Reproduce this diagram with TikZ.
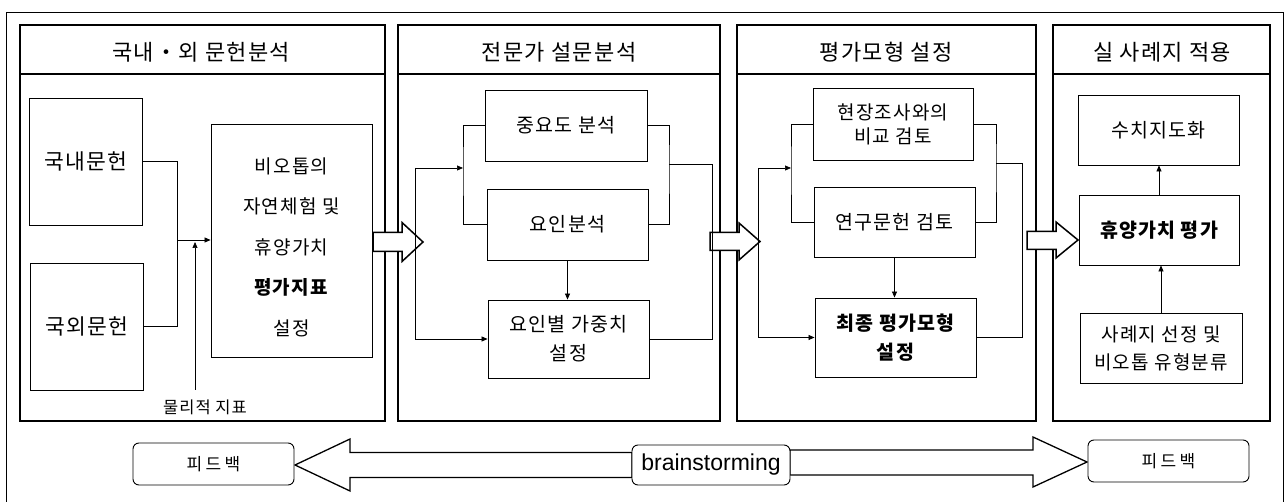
\documentclass[tikz,border=0pt]{standalone}
\usepackage{fontspec}
\setmainfont{Noto Sans CJK KR}[LetterSpace=6]
\newfontfamily\latinsans{Liberation Sans}
\usetikzlibrary{arrows.meta}
\begin{document}
\begin{tikzpicture}[x=1pt,y=-1pt,
  panel/.style={draw,line width=1.1pt},
  box/.style={draw,line width=0.9pt,inner sep=0pt,align=center,fill=white,font=\fontsize{19.5}{28}\selectfont},
  txt/.style={inner sep=0pt,align=center},
  hdr/.style={inner sep=0pt,font=\fontsize{22}{24}\selectfont},
  conn/.style={line width=0.7pt},
  arr/.style={conn,-{Triangle[length=6pt,width=5pt]}},
  hollow/.style={draw,line width=1.5pt,fill=white,line join=miter},
  fbbox/.style={draw,line width=0.9pt,rounded corners=6pt,inner sep=0pt,fill=white,minimum width=161,minimum height=42,font=\fontsize{17}{20}\selectfont\addfontfeature{LetterSpace=20}}
]
\useasboundingbox (0,0) rectangle (1286,502);
% outer frame
\draw[line width=0.9pt] (6,502) -- (6,12) -- (1283,12) -- (1283,502);
% panels
\draw[panel] (20,25) rectangle (385,421); \draw[panel] (20,74) -- (385,74);
\draw[panel] (398,25) rectangle (720,421); \draw[panel] (398,74) -- (720,74);
\draw[panel] (737,25) rectangle (1036,421); \draw[panel] (737,74) -- (1036,74);
\draw[panel] (1053,25) rectangle (1270,421); \draw[panel] (1053,74) -- (1270,74);
% headers
\node[hdr] (h1) at (201,52) {국내・외 문헌분석};
\node[hdr] (h2) at (559,52) {전문가 설문분석};
\node[hdr] (h3) at (886,52) {평가모형 설정};
\node[hdr] (h4) at (1162,52) {실 사례지 적용};
% hollow arrows between panels
\draw[hollow] (373,232.5) -- (402,232.5) -- (402,222.5) -- (423,242) -- (402,261.5) -- (402,251.5) -- (373,251.5) -- cycle;
\draw[hollow] (710,232.5) -- (739,232.5) -- (739,223) -- (760,241.5) -- (739,260) -- (739,250.5) -- (710,250.5) -- cycle;
\draw[hollow] (1027,231.5) -- (1056,231.5) -- (1056,222) -- (1078,240) -- (1056,258) -- (1056,249.5) -- (1027,249.5) -- cycle;
% panel 1
\node[box,minimum width=113,minimum height=127,font=\fontsize{21.5}{24}\selectfont] (kn) at (85.5,161.5) {국내문헌};
\node[box,minimum width=113,minimum height=127,font=\fontsize{21.5}{24}\selectfont] (kw) at (87,326.5) {국외문헌};
\node[box,minimum width=161,minimum height=233] (bio) at (291.5,240.5) {};
\node[txt,font=\fontsize{19}{40.5}\selectfont] (bioT) at (291.5,247) {비오톱의\\자연체험 및\\휴양가치\\\textbf{평가지표}\\설정};
\coordinate (j1) at (177,240);
\draw[conn] (kn.east) -| (j1);
\draw[conn] (kw.east) -| (j1);
\draw[arr] (j1) -- (j1 -| bio.west);
\node[txt,font=\fontsize{16.5}{18}\selectfont] (phys) at (205,407) {물리적 지표};
\coordinate (p0) at (195,390);
\coordinate (p1) at (195,242);
\draw[arr] (p0) -- (p1);
% panel 2
\node[box,minimum width=162,minimum height=71] (imp) at (566,125.5) {중요도 분석};
\node[box,minimum width=161,minimum height=71] (fac) at (567.5,224.5) {요인분석};
\node[box,minimum width=161,minimum height=78,font=\fontsize{19.5}{29}\selectfont] (wt) at (568.5,339) {요인별 가중치\\설정};
\coordinate (lb2) at (463,168);
\coordinate (in2) at (415,168);
\coordinate (rb2) at (669,164);
\coordinate (out2) at (712,164);
\draw[conn] (imp.west) -| (lb2) |- (fac.west);
\draw[arr] (in2) -- (lb2);
\draw[arr] (in2) |- (wt.west);
\draw[conn] (imp.east) -| (rb2) |- (fac.east);
\draw[conn] (rb2) -- (out2) |- (wt.east);
\draw[arr] (fac.south) -- (fac.south |- wt.north);
% panel 3
\node[box,minimum width=160,minimum height=72,font=\fontsize{19}{24}\selectfont] (cmp) at (893,124) {현장조사와의\\비교 검토};
\node[box,minimum width=161,minimum height=70] (lit) at (894.5,222) {연구문헌 검토};
\node[box,minimum width=161,minimum height=79,font=\bfseries\fontsize{19.5}{29}\selectfont] (fin) at (895.5,337.5) {최종 평가모형\\설정};
\coordinate (lb3) at (791,168);
\coordinate (in3) at (758,168);
\coordinate (rb3) at (996,163);
\coordinate (out3) at (1022,163);
\draw[conn] (cmp.west) -| (lb3) |- (lit.west);
\draw[arr] (in3) -- (lb3);
\draw[arr] (in3) |- (fin.west);
\draw[conn] (cmp.east) -| (rb3) |- (lit.east);
\draw[conn] (rb3) -- (out3) |- (fin.east);
\draw[arr] (lit.south) -- (lit.south |- fin.north);
% panel 4
\node[box,minimum width=161,minimum height=70] (map) at (1158.5,130) {수치지도화};
\node[box,minimum width=160,minimum height=70,font=\bfseries\fontsize{19.5}{24}\selectfont] (rec) at (1159,230) {휴양가치 평가};
\node[box,minimum width=162,minimum height=70,font=\fontsize{19}{28}\selectfont] (sel) at (1161,348) {사례지 선정 및\\비오톱 유형분류};
\draw[arr] (rec.north) -- (rec.north |- map.south);
\draw[arr] (sel.north) -- (sel.north |- rec.south);
% bottom feedback row
\draw[hollow,line width=1.3pt] (632,452.5) -- (350,452.5) -- (350,439) -- (295,465) -- (350,491) -- (350,477.5) -- (632,477.5) -- cycle;
\draw[hollow,line width=1.3pt] (790,450) -- (1033,450) -- (1033,437) -- (1087,462) -- (1033,487) -- (1033,475) -- (790,475) -- cycle;
\node[fbbox] (fbL) at (213.5,464) {피드백};
\node[fbbox,minimum width=158,minimum height=40,font=\latinsans\fontsize{23}{26}\selectfont] (bs) at (711,465) {brainstorming};
\node[fbbox] (fbR) at (1168.5,461) {피드백};
\end{tikzpicture}
\end{document}
